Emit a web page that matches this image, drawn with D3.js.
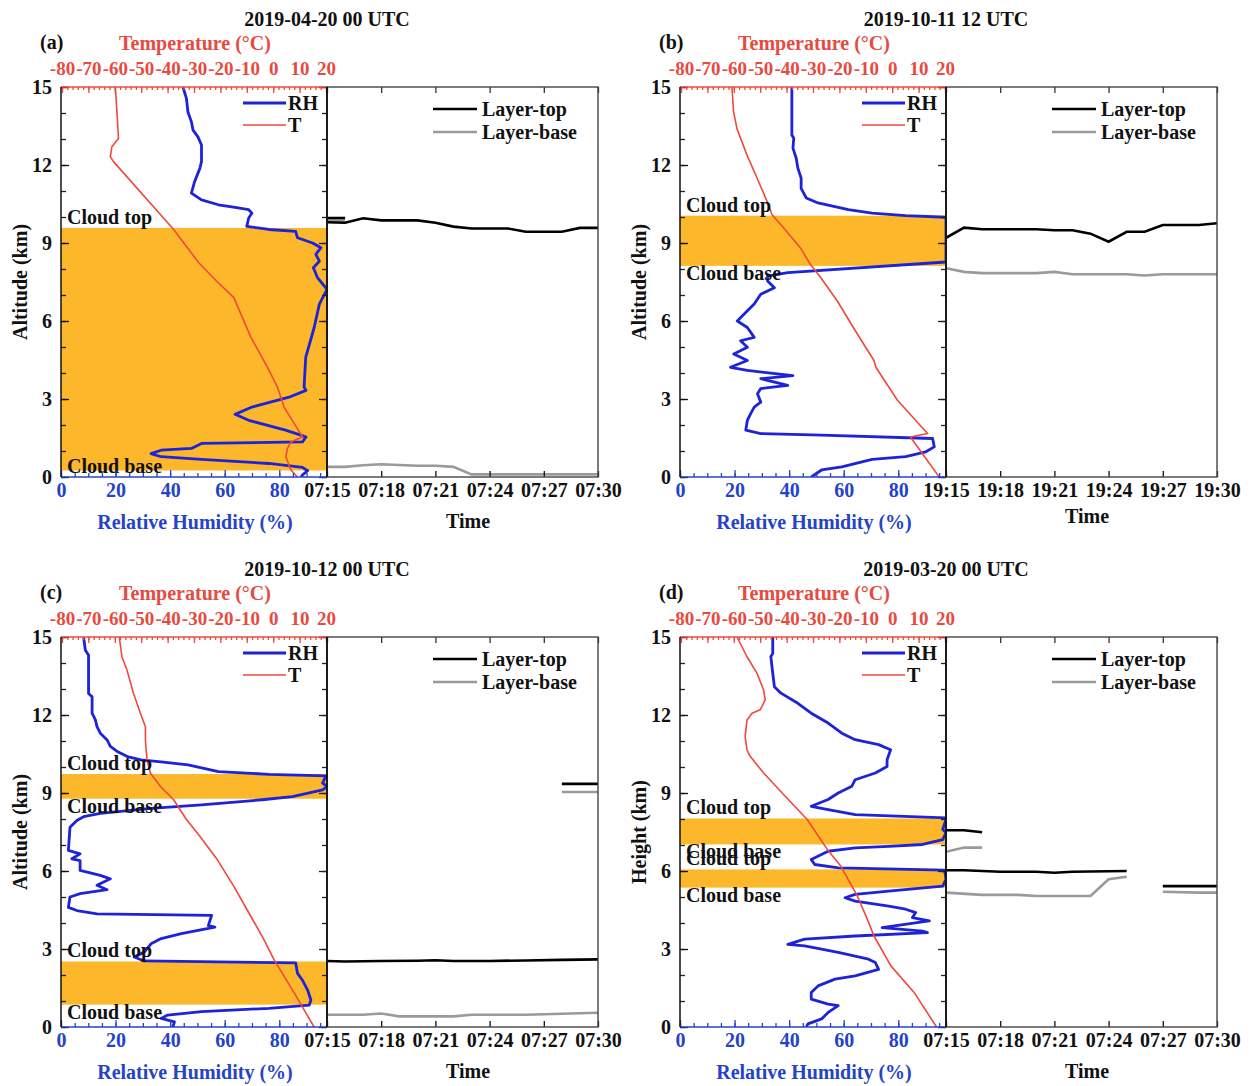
<!DOCTYPE html>
<html><head><meta charset="utf-8">
<script src="https://cdn.jsdelivr.net/npm/d3@7"></script>
<style>
body{margin:0;background:#fff;}
text{font-family:"Liberation Serif","Times New Roman",serif;font-weight:bold;}
</style></head>
<body>
<script>
// ---------------- DATA ----------------
const panelIds = ["(a)", "(b)", "(c)", "(d)"];
const panelTitles = ["2019-04-20 00 UTC", "2019-10-11 12 UTC", "2019-10-12 00 UTC", "2019-03-20 00 UTC"];
const yLabels = ["Altitude (km)", "Altitude (km)", "Altitude (km)", "Height (km)"];
const altTicks = [0, 3, 6, 9, 12, 15];
const rhTicks = [0, 20, 40, 60, 80];
const tempTicks = [-80, -70, -60, -50, -40, -30, -20, -10, 0, 10, 20];
const timeTicksA = ["07:15", "07:18", "07:21", "07:24", "07:27", "07:30"];
const timeTicksB = ["19:15", "19:18", "19:21", "19:24", "19:27", "19:30"];

// RH profiles [RH %, altitude km]
const rhA = [[44.7,15],[46,14.55],[46.5,14.05],[47.8,13.66],[48.4,13.34],[50.2,13.08],[51.5,12.77],[51.5,12.13],[50.9,11.87],[49,11.37],[47.8,10.92],[51.5,10.66],[57.7,10.47],[63.8,10.37],[68.8,10.28],[70,10.15],[68.8,9.96],[68.1,9.64],[76.2,9.52],[86,9.45],[86.7,9.2],[92.2,9.0],[95.3,8.82],[93.4,8.56],[94.7,8.3],[92.5,8.05],[94,7.67],[97.5,7.22],[94.7,6.65],[92.8,5.75],[89.7,4.6],[89.1,3.46],[89.8,3.33],[83.6,3.07],[70,2.69],[63.8,2.41],[68.8,2.18],[82.3,1.8],[87.9,1.61],[89.8,1.54],[88.5,1.35],[51.5,1.29],[47.8,1.1],[36.7,1.03],[33,0.9],[36.7,0.78],[51.5,0.68],[76.2,0.52],[88.5,0.37],[90.4,0.24],[88.5,0.08],[88,0]];
const rhB = [[41,15],[41,13.15],[41.7,13.03],[41.4,12.65],[42.6,12.26],[43.2,11.88],[44.4,11.5],[44.4,11.1],[46.3,10.73],[50.6,10.54],[61.7,10.28],[70.4,10.15],[82.7,10.05],[97.5,9.99],[97.5,8.27],[39.5,7.86],[32.1,7.73],[32.1,7.54],[34.6,7.28],[29.6,7.03],[27.2,6.65],[24.7,6.39],[21,6.0],[24.7,5.75],[27.2,5.37],[22.2,5.24],[24.7,4.99],[19.7,4.73],[24.7,4.48],[18.5,4.22],[24.7,4.1],[41.4,3.9],[29.6,3.78],[39.5,3.52],[29.6,3.4],[28.4,3.2],[29.6,2.88],[27.2,2.69],[25.9,2.44],[24.7,2.18],[24.1,1.8],[29.6,1.67],[51.9,1.61],[92.6,1.48],[93.2,1.16],[90.1,0.97],[82.7,0.78],[70.4,0.68],[59.3,0.39],[51.9,0.27],[48.1,0]];
const rhC = [[8.3,15],[8.9,14.5],[10.1,14.3],[10.1,12.83],[11.4,12.7],[11.4,12.07],[12.6,11.81],[13.2,11.55],[14.4,11.3],[16.9,11.04],[18.1,10.79],[20.6,10.6],[24.3,10.4],[29.3,10.27],[36.7,10.2],[46.6,10.08],[57.7,9.82],[76.2,9.72],[97.1,9.66],[95.9,9.38],[97.5,9.25],[95.9,9.12],[84.8,8.86],[73.7,8.74],[51.5,8.54],[33,8.41],[14.4,8.22],[8.3,8.09],[5.8,7.94],[3.3,7.68],[2.7,6.79],[7.0,6.66],[4.0,6.47],[7.0,6.4],[7.0,6.02],[14.4,5.83],[18.1,5.7],[13.2,5.45],[16.9,5.28],[7.0,5.13],[3.3,5.0],[2.7,4.6],[5.8,4.48],[13.2,4.35],[55.2,4.29],[54,3.9],[56.4,3.84],[44.1,3.59],[36.7,3.4],[33,3.2],[30.5,2.88],[26.8,2.69],[30.5,2.54],[86,2.47],[86.7,2.06],[88.5,1.8],[90.4,1.42],[91.6,1.04],[91,0.84],[76.2,0.72],[51.5,0.59],[39.1,0.46],[36.7,0.33],[41.6,0.2],[41,0]];
const rhD = [[34,15],[34,14.37],[33.3,14.24],[34,13.6],[34.6,13.09],[37,12.84],[43.2,12.45],[48.1,12.07],[54.3,11.69],[59.3,11.3],[64.2,11.05],[72.8,10.86],[77.2,10.66],[75.9,10.28],[75.9,10.02],[71.6,9.77],[64.2,9.51],[63,9.26],[58,9.0],[54.3,8.75],[48.1,8.49],[54.3,8.36],[64.2,8.17],[97.5,8.04],[97.5,7.98],[96.3,7.6],[97.5,7.47],[96.3,7.21],[88.9,7.02],[76.5,6.95],[64.2,6.89],[54.3,6.76],[48.1,6.44],[49.4,6.25],[58,6.12],[97,6.03],[97.5,5.68],[96.3,5.42],[76.5,5.23],[64.2,5.1],[60.5,4.97],[64.2,4.84],[76.5,4.65],[82.7,4.53],[86.4,4.4],[85.2,4.21],[91.4,4.08],[74.1,3.82],[88.9,3.69],[90.7,3.63],[64.2,3.5],[45.7,3.38],[39.5,3.18],[45.7,3.12],[58,2.87],[69.1,2.61],[71.6,2.48],[72.8,2.22],[64.2,1.97],[56.8,1.84],[50.6,1.58],[48.1,1.33],[48.1,1.07],[54.3,0.88],[58,0.82],[54.3,0.56],[51.9,0.31],[46.9,0.12],[46.3,0]];

// Temperature profiles [T degC, altitude km]
const tA = [[-59.8,15],[-59.2,14.05],[-58.6,13.02],[-61.1,12.7],[-61.7,12.32],[-60.5,12.13],[-37.7,9.52],[-28.2,8.24],[-21.5,7.54],[-14.9,6.9],[-8.5,5.38],[-2.2,4.23],[1.6,3.46],[4.1,2.69],[8.0,2.05],[11.1,1.54],[6.7,1.35],[5.4,1.1],[4.8,0.78],[6.7,0.27],[9.2,0]];
const tB = [[-60.7,15],[-60.1,14.05],[-58.8,13.4],[-55,12.38],[-51.2,11.5],[-47.4,10.6],[-45.5,10.09],[-41.1,9.58],[-34.8,8.82],[-31,8.18],[-27.1,7.67],[-20.8,6.77],[-13.2,5.5],[-6.9,4.48],[-6.2,4.22],[2.0,2.95],[13.4,1.67],[6.9,1.54],[17.8,0]];
const tC = [[-58.3,15],[-57.3,14.24],[-55.4,13.73],[-52.9,12.83],[-50.3,12.07],[-48.4,11.55],[-48.4,11.04],[-47.8,10.27],[-46.5,9.76],[-42.7,9.25],[-37.7,8.74],[-33,8.0],[-27.5,7.3],[-21.2,6.44],[-14.9,5.41],[-8.5,4.26],[-3.5,3.36],[0.3,2.59],[7.9,1.32],[15.5,0]];
const tD = [[-58.8,15],[-55,14.24],[-51.2,13.6],[-48.7,12.96],[-48.1,12.58],[-50,12.2],[-53.1,12.07],[-55,11.81],[-55.7,11.17],[-55,10.66],[-53.8,10.41],[-48.7,9.77],[-39.8,8.8],[-32.2,7.98],[-24.6,6.83],[-19.5,6.19],[-13.2,5.04],[-9.4,4.14],[-6.9,3.5],[-0.5,2.35],[8.3,1.33],[16.8,0]];

// Cloud layers [base km, top km]
const bandsA = [[0.25, 9.58]];
const bandsB = [[8.12, 10.05]];
const bandsC = [[8.78, 9.73], [0.86, 2.52]];
const bandsD = [[7.02, 8.02], [5.36, 6.06]];

// Layer time series: segments of [minutes after start, altitude km]
const topA = [[[0,9.96],[1,9.96]], [[0,9.8],[1,9.78],[2,9.95],[3,9.87],[5,9.87],[6,9.78],[7,9.63],[8,9.56],[10,9.56],[11,9.43],[13,9.43],[14,9.58],[15,9.58]]];
const baseA = [[[0,9.86],[1,9.86]], [[0,0.39],[1,0.39],[2,0.45],[3,0.49],[5,0.43],[6,0.43],[7,0.39],[8,0.1],[15,0.1]]];
const topB = [[[0,9.2],[1,9.59],[2,9.53],[5,9.53],[6,9.49],[7,9.49],[8,9.36],[9,9.05],[10,9.43],[11,9.43],[12,9.69],[14,9.69],[15,9.76]]];
const baseB = [[[0,8.03],[1,7.89],[2,7.84],[5,7.84],[6,7.89],[7,7.8],[10,7.8],[11,7.75],[12,7.8],[15,7.8]]];
const topC = [[[13,9.35],[15,9.35]], [[0,2.54],[1,2.52],[3,2.54],[5,2.55],[6,2.57],[7,2.54],[9,2.54],[11,2.56],[13,2.58],[15,2.6]]];
const baseC = [[[13,9.04],[15,9.04]], [[0,0.47],[2,0.47],[3,0.52],[4,0.41],[7,0.41],[8,0.47],[11,0.47],[15,0.55]]];
const topD = [[[0,7.57],[1,7.57],[2,7.49]], [[0,6.03],[1,6.03],[3,5.97],[5,5.97],[6,5.93],[7,5.97],[10,6.0]], [[12,5.42],[15,5.42]]];
const baseD = [[[0,6.74],[1,6.9],[2,6.9]], [[0,5.17],[2,5.08],[4,5.08],[5,5.04],[8,5.04],[9,5.68],[10,5.78]], [[12,5.2],[14,5.17],[15,5.17]]];

// ---------------- DRAWING ----------------
const BLUE = "#1c23d8", BLUE_T = "#2443c9", RED = "#f0483c", RED_T = "#e64a40", ORANGE = "#fcb82a", GRAY = "#9a9a9a";
const FONT = 20;
const svg = d3.select("body").append("svg").attr("width", 1254).attr("height", 1086);
const parseT = d3.utcParse("%H:%M");

const panels = [
  {rh: rhA, t: tA, bands: bandsA, top: topA, base: baseA, ticks: timeTicksA, ox: 0, oy: 0, timeY: 528},
  {rh: rhB, t: tB, bands: bandsB, top: topB, base: baseB, ticks: timeTicksB, ox: 619, oy: 0, timeY: 523},
  {rh: rhC, t: tC, bands: bandsC, top: topC, base: baseC, ticks: timeTicksA, ox: 0, oy: 550, timeY: 528},
  {rh: rhD, t: tD, bands: bandsD, top: topD, base: baseD, ticks: timeTicksA, ox: 619, oy: 550, timeY: 528}
];

panels.forEach((p, i) => {
  const x0 = 61 + p.ox, x1 = 327 + p.ox, x2 = 598 + p.ox;
  const yT = 87 + p.oy, yB = 477 + p.oy;
  const g = svg.append("g");
  const y = d3.scaleLinear().domain([0, 15]).range([yB, yT]);
  const xRH = d3.scaleLinear().domain([0, 97.5]).range([x0, x1]);
  const xT = d3.scaleLinear().domain([-80, 20]).range([x0 + 1, x1 - 1]);
  const tDates = p.ticks.map(parseT);
  const xTime = d3.scaleUtc().domain([tDates[0], tDates[tDates.length - 1]]).range([x1, x2]);

  const clipId = "clip" + i;
  svg.append("clipPath").attr("id", clipId).append("rect")
    .attr("x", x0).attr("y", yT).attr("width", x1 - x0).attr("height", yB - yT);
  const clipId2 = "clipR" + i;
  svg.append("clipPath").attr("id", clipId2).append("rect")
    .attr("x", x1).attr("y", yT).attr("width", x2 - x1).attr("height", yB - yT);

  // cloud bands
  const plot = g.append("g").attr("clip-path", `url(#${clipId})`);
  plot.selectAll("rect.band").data(p.bands).join("rect").attr("class", "band")
    .attr("x", x0).attr("width", x1 - x0)
    .attr("y", d => y(d[1])).attr("height", d => y(d[0]) - y(d[1]))
    .attr("fill", ORANGE);

  // cloud labels
  p.bands.forEach(b => {
    g.append("text").attr("x", x0 + 6).attr("y", y(b[1]) - 4).attr("font-size", FONT).attr("fill", "#111").text("Cloud top");
    g.append("text").attr("x", x0 + 6).attr("y", Math.min(y(b[0]) + 14, yB - 4)).attr("font-size", FONT).attr("fill", "#111").text("Cloud base");
  });

  // profiles
  const lineRH = d3.line().x(d => xRH(d[0])).y(d => y(d[1]));
  const lineT = d3.line().x(d => xT(d[0])).y(d => y(d[1]));
  plot.append("path").datum(p.rh).attr("d", lineRH).attr("fill", "none").attr("stroke", BLUE).attr("stroke-width", 2.8).attr("stroke-linejoin", "round");
  plot.append("path").datum(p.t).attr("d", lineT).attr("fill", "none").attr("stroke", RED).attr("stroke-width", 1.6).attr("stroke-linejoin", "round");

  // layer time series
  const rplot = g.append("g").attr("clip-path", `url(#${clipId2})`);
  const lineL = d3.line().x(d => xTime(d3.utcMinute.offset(tDates[0], d[0]))).y(d => y(d[1]));
  rplot.selectAll("path.base").data(p.base).join("path").attr("class", "base")
    .attr("d", lineL).attr("fill", "none").attr("stroke", GRAY).attr("stroke-width", 2.6);
  rplot.selectAll("path.top").data(p.top).join("path").attr("class", "top")
    .attr("d", lineL).attr("fill", "none").attr("stroke", "#000").attr("stroke-width", 2.6);

  // axes
  const styleAxis = (sel, color, fs) => {
    sel.select(".domain").remove();
    sel.selectAll("line").attr("stroke", color).attr("stroke-width", 1.3);
    sel.selectAll("text").attr("fill", color).attr("font-size", fs || FONT).attr("font-family", '"Liberation Serif",serif').attr("font-weight", "bold");
  };
  const fmtNum = d => String(d);
  g.append("g").attr("transform", `translate(${x0},0)`)
    .call(d3.axisLeft(y).tickValues(d3.range(0, 16)).tickSize(-5).tickFormat("")).call(s => styleAxis(s, "#222"));
  g.append("g").attr("transform", `translate(${x0},0)`)
    .call(d3.axisLeft(y).tickValues(altTicks).tickSize(-8).tickPadding(9).tickFormat(fmtNum)).call(s => styleAxis(s, "#111"));
  // left panel right edge ticks
  g.append("g").attr("transform", `translate(${x1},0)`)
    .call(d3.axisRight(y).tickValues(d3.range(0, 16)).tickSize(-5).tickFormat("")).call(s => styleAxis(s, "#222"));
  g.append("g").attr("transform", `translate(${x1},0)`)
    .call(d3.axisRight(y).tickValues(altTicks).tickSize(-8).tickFormat("")).call(s => styleAxis(s, "#222"));
  // top temperature axis
  g.append("g").attr("transform", `translate(0,${yT})`)
    .call(d3.axisTop(xT).tickValues(d3.range(-80, 21, 2)).tickSize(-3).tickFormat("")).call(s => styleAxis(s, RED));
  g.append("g").attr("transform", `translate(0,${yT})`)
    .call(d3.axisTop(xT).tickValues(tempTicks).tickSize(-6).tickPadding(12).tickFormat(fmtNum)).call(s => styleAxis(s, RED_T, 19));
  // bottom RH axis
  g.append("g").attr("transform", `translate(0,${yB})`)
    .call(d3.axisBottom(xRH).tickValues(d3.range(0, 96, 5)).tickSize(-4).tickFormat("")).call(s => styleAxis(s, BLUE_T));
  g.append("g").attr("transform", `translate(0,${yB})`)
    .call(d3.axisBottom(xRH).tickValues(rhTicks).tickSize(-7).tickPadding(6).tickFormat(fmtNum)).call(s => styleAxis(s, BLUE_T));
  // time axes
  g.append("g").attr("transform", `translate(0,${yB})`)
    .call(d3.axisBottom(xTime).tickValues(tDates).tickSize(-6).tickPadding(6).tickFormat(d3.utcFormat("%H:%M"))).call(s => styleAxis(s, "#111"));
  g.append("g").attr("transform", `translate(0,${yT})`)
    .call(d3.axisTop(xTime).tickValues(tDates).tickSize(-6).tickFormat("")).call(s => styleAxis(s, "#333"));

  // frames
  g.append("line").attr("x1", x0).attr("x2", x1).attr("y1", yT).attr("y2", yT).attr("stroke", RED).attr("stroke-width", 1.5);
  g.append("line").attr("x1", x0).attr("x2", x1).attr("y1", yB).attr("y2", yB).attr("stroke", BLUE_T).attr("stroke-width", 1.5);
  g.append("line").attr("x1", x0).attr("x2", x0).attr("y1", yT).attr("y2", yB).attr("stroke", "#111").attr("stroke-width", 1.5);
  g.append("rect").attr("x", x1).attr("y", yT).attr("width", x2 - x1).attr("height", yB - yT)
    .attr("fill", "none").attr("stroke", "#444").attr("stroke-width", 1.4);
  g.append("line").attr("x1", x1).attr("x2", x1).attr("y1", yT).attr("y2", yB).attr("stroke", "#111").attr("stroke-width", 1.8);

  // legends
  const lg = [[BLUE, "RH", 16, 2.8], [RED, "T", 38, 1.6]];
  lg.forEach(l => {
    g.append("line").attr("x1", x0 + 182).attr("x2", x0 + 225).attr("y1", yT + l[2]).attr("y2", yT + l[2]).attr("stroke", l[0]).attr("stroke-width", l[3]);
    g.append("text").attr("x", x0 + 227).attr("y", yT + l[2] + 7).attr("font-size", FONT).attr("fill", "#111").text(l[1]);
  });
  const lg2 = [["#000", "Layer-top", 22], [GRAY, "Layer-base", 45]];
  lg2.forEach(l => {
    g.append("line").attr("x1", x1 + 106).attr("x2", x1 + 150).attr("y1", yT + l[2]).attr("y2", yT + l[2]).attr("stroke", l[0]).attr("stroke-width", 2.6);
    g.append("text").attr("x", x1 + 155).attr("y", yT + l[2] + 7).attr("font-size", FONT).attr("fill", "#111").text(l[1]);
  });

  // titles and labels
  g.append("text").attr("x", x1).attr("y", 26 + p.oy).attr("text-anchor", "middle").attr("font-size", FONT).attr("fill", "#111").text(panelTitles[i]);
  g.append("text").attr("x", 40 + p.ox).attr("y", 49 + p.oy).attr("font-size", FONT).attr("fill", "#111").text(panelIds[i]);
  g.append("text").attr("x", 195 + p.ox).attr("y", 50 + p.oy).attr("text-anchor", "middle").attr("font-size", FONT).attr("fill", RED_T).text("Temperature (°C)");
  g.append("text").attr("transform", `translate(${27 + p.ox},${(yT + yB) / 2}) rotate(-90)`).attr("text-anchor", "middle").attr("font-size", FONT).attr("fill", "#111").text(yLabels[i]);
  g.append("text").attr("x", 195 + p.ox).attr("y", 529 + p.oy).attr("text-anchor", "middle").attr("font-size", FONT).attr("fill", BLUE_T).text("Relative Humidity (%)");
  g.append("text").attr("x", 468 + p.ox).attr("y", p.timeY + p.oy).attr("text-anchor", "middle").attr("font-size", FONT).attr("fill", "#111").text("Time");
});
</script>
</body></html>
